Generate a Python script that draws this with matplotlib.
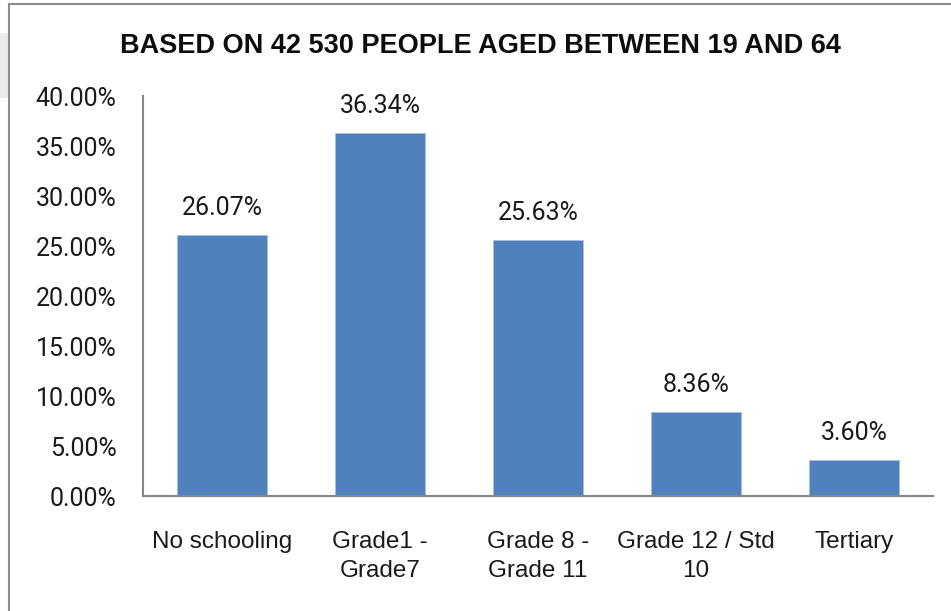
import matplotlib.pyplot as plt
from matplotlib.patches import Rectangle
from matplotlib.lines import Line2D
from matplotlib.ticker import FuncFormatter

categories = ["No schooling", "Grade1 -\nGrade7", "Grade 8 -\nGrade 11", "Grade 12 / Std\n10", "Tertiary"]
shares = [26.07, 36.34, 25.63, 8.36, 3.60]
yticks = [0, 5, 10, 15, 20, 25, 30, 35, 40]

W, H = 951, 611
fig = plt.figure(figsize=(W / 100, H / 100), dpi=100)
fig.patch.set_facecolor("white")

# frame around the chart area
fig.add_artist(Rectangle((0, (H - 98) / H), 8 / W, 65 / H, transform=fig.transFigure,
                         facecolor="#ebebeb", edgecolor="none"))
fig.add_artist(Line2D([8.5 / W, 8.5 / W], [0, (H - 3.5) / H], transform=fig.transFigure,
                      color="#8c8c8c", lw=1.5))
fig.add_artist(Line2D([8.5 / W, 1], [(H - 3.5) / H, (H - 3.5) / H], transform=fig.transFigure,
                      color="#8c8c8c", lw=1.5))

ax = fig.add_axes([143 / W, (H - 496) / H, (933 - 143) / W, 400 / H])
x = range(len(categories))
ax.bar(x, shares, width=0.57, color="#4f81bd", edgecolor="#a7c0de", linewidth=0.6, zorder=2)

for i, v in enumerate(shares):
    ax.text(i, v + 1.5, f"{v:.2f}%", ha="center", va="bottom", fontsize=18,
            family="Roboto", color="#1a1a1a")

ax.set_xlim(-0.5, 4.5)
ax.set_ylim(0, 40)
ax.set_yticks(yticks)
ax.yaxis.set_major_formatter(FuncFormatter(lambda v, p: f"{v:.2f}%"))
ax.set_xticks(list(x))
ax.set_xticklabels(categories, family="Liberation Sans", fontsize=17.5, linespacing=1.45,
                   color="#1a1a1a")
for lab in ax.get_yticklabels():
    lab.set_family("Roboto")
    lab.set_fontsize(18)
    lab.set_color("#1a1a1a")
ax.tick_params(axis="both", length=0)
ax.tick_params(axis="y", pad=19)
ax.tick_params(axis="x", pad=25)

for side in ["top", "right"]:
    ax.spines[side].set_visible(False)
ax.spines["left"].set_color("#868686")
ax.spines["bottom"].set_color("#868686")
ax.spines["left"].set_linewidth(1.5)
ax.spines["bottom"].set_linewidth(1.5)

fig.text(480 / W, (H - 46) / H, "BASED ON 42 530 PEOPLE AGED BETWEEN 19 AND 64",
         ha="center", va="center", fontsize=19.5, fontweight="bold",
         family="Liberation Sans", color="#0d0d0d")

fig.savefig("out.png", dpi=100)
